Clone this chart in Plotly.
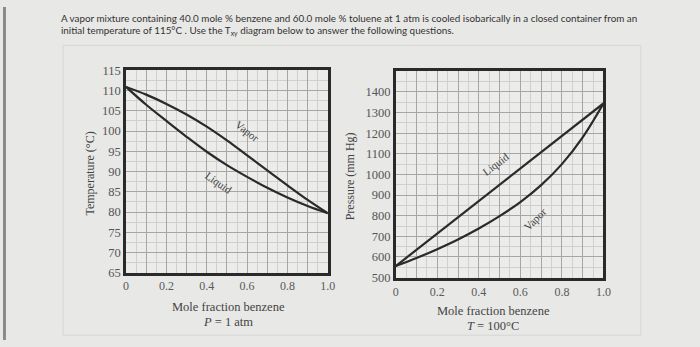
import plotly.graph_objects as go

# ---- data ----
x_frac = [0, 0.1, 0.2, 0.3, 0.4, 0.5, 0.6, 0.7, 0.8, 0.9, 1.0]
T_liquid = [110.9, 106.5, 102.5, 98.6, 94.9, 91.6, 88.7, 86.0, 83.6, 81.5, 79.7]
T_vapor = [110.9, 109.0, 106.7, 104.1, 101.1, 97.7, 94.0, 90.3, 86.6, 83.0, 79.7]

x_liq_p = [0, 1.0]
P_liquid = [556, 1344]
P_vapor = [556, 595, 638, 685, 738, 798, 866, 948, 1050, 1180, 1344]

x_grid_vals = [0, 0.1, 0.2, 0.3, 0.4, 0.5, 0.6, 0.7, 0.8, 0.9, 1.0]
x_label_vals = [0, 0.2, 0.4, 0.6, 0.8, 1.0]
x_label_text = ["0", "0.2", "0.4", "0.6", "0.8", "1.0"]
T_tickvals = [65, 70, 75, 80, 85, 90, 95, 100, 105, 110, 115]
P_tickvals = [500, 600, 700, 800, 900, 1000, 1100, 1200, 1300, 1400]

W, H = 700, 347
def px(x):
    return x / W
def py(y):
    return 1 - y / H

SERIF = "Liberation Serif"
LINE = "#2a2a2a"
BG = "#e8e8e6"

fig = go.Figure()
fig.add_trace(go.Scatter(x=x_frac, y=T_liquid, mode="lines", line=dict(color=LINE, width=2.2),
                         xaxis="x", yaxis="y", showlegend=False, line_shape="spline"))
fig.add_trace(go.Scatter(x=x_frac, y=T_vapor, mode="lines", line=dict(color=LINE, width=2.2),
                         xaxis="x", yaxis="y", showlegend=False, line_shape="spline"))
fig.add_trace(go.Scatter(x=x_liq_p, y=P_liquid, mode="lines", line=dict(color=LINE, width=2.2),
                         xaxis="x2", yaxis="y2", showlegend=False))
fig.add_trace(go.Scatter(x=x_frac, y=P_vapor, mode="lines", line=dict(color=LINE, width=2.2),
                         xaxis="x2", yaxis="y2", showlegend=False, line_shape="spline"))
# empty traces to bind the label-only overlay axes
fig.add_trace(go.Scatter(x=[], y=[], xaxis="x3", yaxis="y", showlegend=False, hoverinfo="skip"))
fig.add_trace(go.Scatter(x=[], y=[], xaxis="x4", yaxis="y2", showlegend=False, hoverinfo="skip"))

def xaxis_grid(domain, anchor):
    return dict(domain=domain, anchor=anchor, range=[0, 1], tickmode="array",
                tickvals=x_grid_vals, showticklabels=False, showgrid=True,
                gridcolor="#a6a6a6", gridwidth=1, showline=True, linecolor=LINE,
                linewidth=2.5, mirror=True, zeroline=False, ticks="", ticklen=0,
                minor=dict(dtick=0.05, tick0=0, showgrid=True, gridcolor="#d0d0d0", gridwidth=1))

def xaxis_labels(over, anchor, standoff):
    return dict(overlaying=over, anchor=anchor, range=[0, 1], tickmode="array",
                tickvals=x_label_vals, ticktext=x_label_text, showgrid=False,
                showline=False, zeroline=False, ticks="", ticklen=0, side="bottom",
                ticklabelstandoff=standoff,
                tickfont=dict(family=SERIF, size=12, color="#5a5a5a"))

def yaxis_cfg(domain, anchor, rng, tv, minor_dt):
    return dict(domain=domain, anchor=anchor, range=rng, tickmode="array",
                tickvals=tv, ticktext=[str(v) for v in tv], showgrid=True,
                gridcolor="#a6a6a6", gridwidth=1,
                showline=True, linecolor=LINE, linewidth=2.5, mirror=True, zeroline=False,
                ticks="", ticklen=0, tickfont=dict(family=SERIF, size=12.5, color="#555"),
                minor=dict(dtick=minor_dt, tick0=rng[0], showgrid=True, gridcolor="#d0d0d0", gridwidth=1))

fig.update_layout(
    width=W, height=H, margin=dict(l=0, r=0, t=0, b=0),
    paper_bgcolor=BG, plot_bgcolor="#ececea",
    xaxis=xaxis_grid([px(125), px(330)], "y"),
    yaxis=yaxis_cfg([py(277), py(66)], "x", [65, 115], T_tickvals, 2.5),
    xaxis2=xaxis_grid([px(399), px(610)], "y2"),
    yaxis2=yaxis_cfg([py(282), py(67)], "x2", [500, 1500], P_tickvals, 50),
    xaxis3=xaxis_labels("x", "y", 4),
    xaxis4=xaxis_labels("x2", "y2", 5),
    showlegend=False,
)

ann = []
def A(text, x, y, size=12, angle=0, xref="paper", yref="paper", family=SERIF, color="#444", xanchor="center"):
    ann.append(dict(text=text, x=x, y=y, xref=xref, yref=yref, showarrow=False,
                    font=dict(family=family, size=size, color=color), textangle=angle,
                    xanchor=xanchor, yanchor="middle"))

# header
HF = "Lato"
A("A vapor mixture containing 40.0 mole % benzene and 60.0 mole % toluene at 1 atm is cooled isobarically in a closed container from an",
  px(57), py(11), size=9.85, family=HF, color="#333", xanchor="left")
A("initial temperature of 115°C . Use the T<sub>xy</sub> diagram below to answer the following questions.",
  px(57), py(25), size=9.85, family=HF, color="#333", xanchor="left")

# axis titles
A("Temperature (°C)", px(88), py(174), size=12, angle=-90)
A("Pressure (mm Hg)", px(352), py(176), size=12, angle=-90)
A("Mole fraction benzene", px(229), py(313), size=12.5)
A("<i>P</i> = 1 atm", px(229), py(328), size=12.5)
A("Mole fraction benzene", px(498), py(317), size=12.5)
A("<i>T</i> = 100°C", px(498), py(332), size=12.5)

# curve labels (data coords)
A("Vapor", 0.6, 100.0, size=11, angle=38, xref="x", yref="y")
A("Liquid", 0.462, 87.3, size=11, angle=35, xref="x", yref="y")
A("Liquid", 0.482, 1050, size=11, angle=-37, xref="x2", yref="y2")
A("Vapor", 0.672, 782, size=11, angle=-45, xref="x2", yref="y2")

fig.update_layout(annotations=ann)

fig.update_layout(shapes=[
    dict(type="rect", xref="paper", yref="paper", x0=0, x1=px(3), y0=0, y1=1,
         fillcolor="#8a8a8a", line=dict(width=0), layer="below"),
    dict(type="rect", xref="paper", yref="paper", x0=px(61), x1=px(648), y0=py(342), y1=py(40),
         fillcolor="rgba(0,0,0,0)", line=dict(color="#d6d6d4", width=1), layer="below"),
])

fig.write_html("out.html")
